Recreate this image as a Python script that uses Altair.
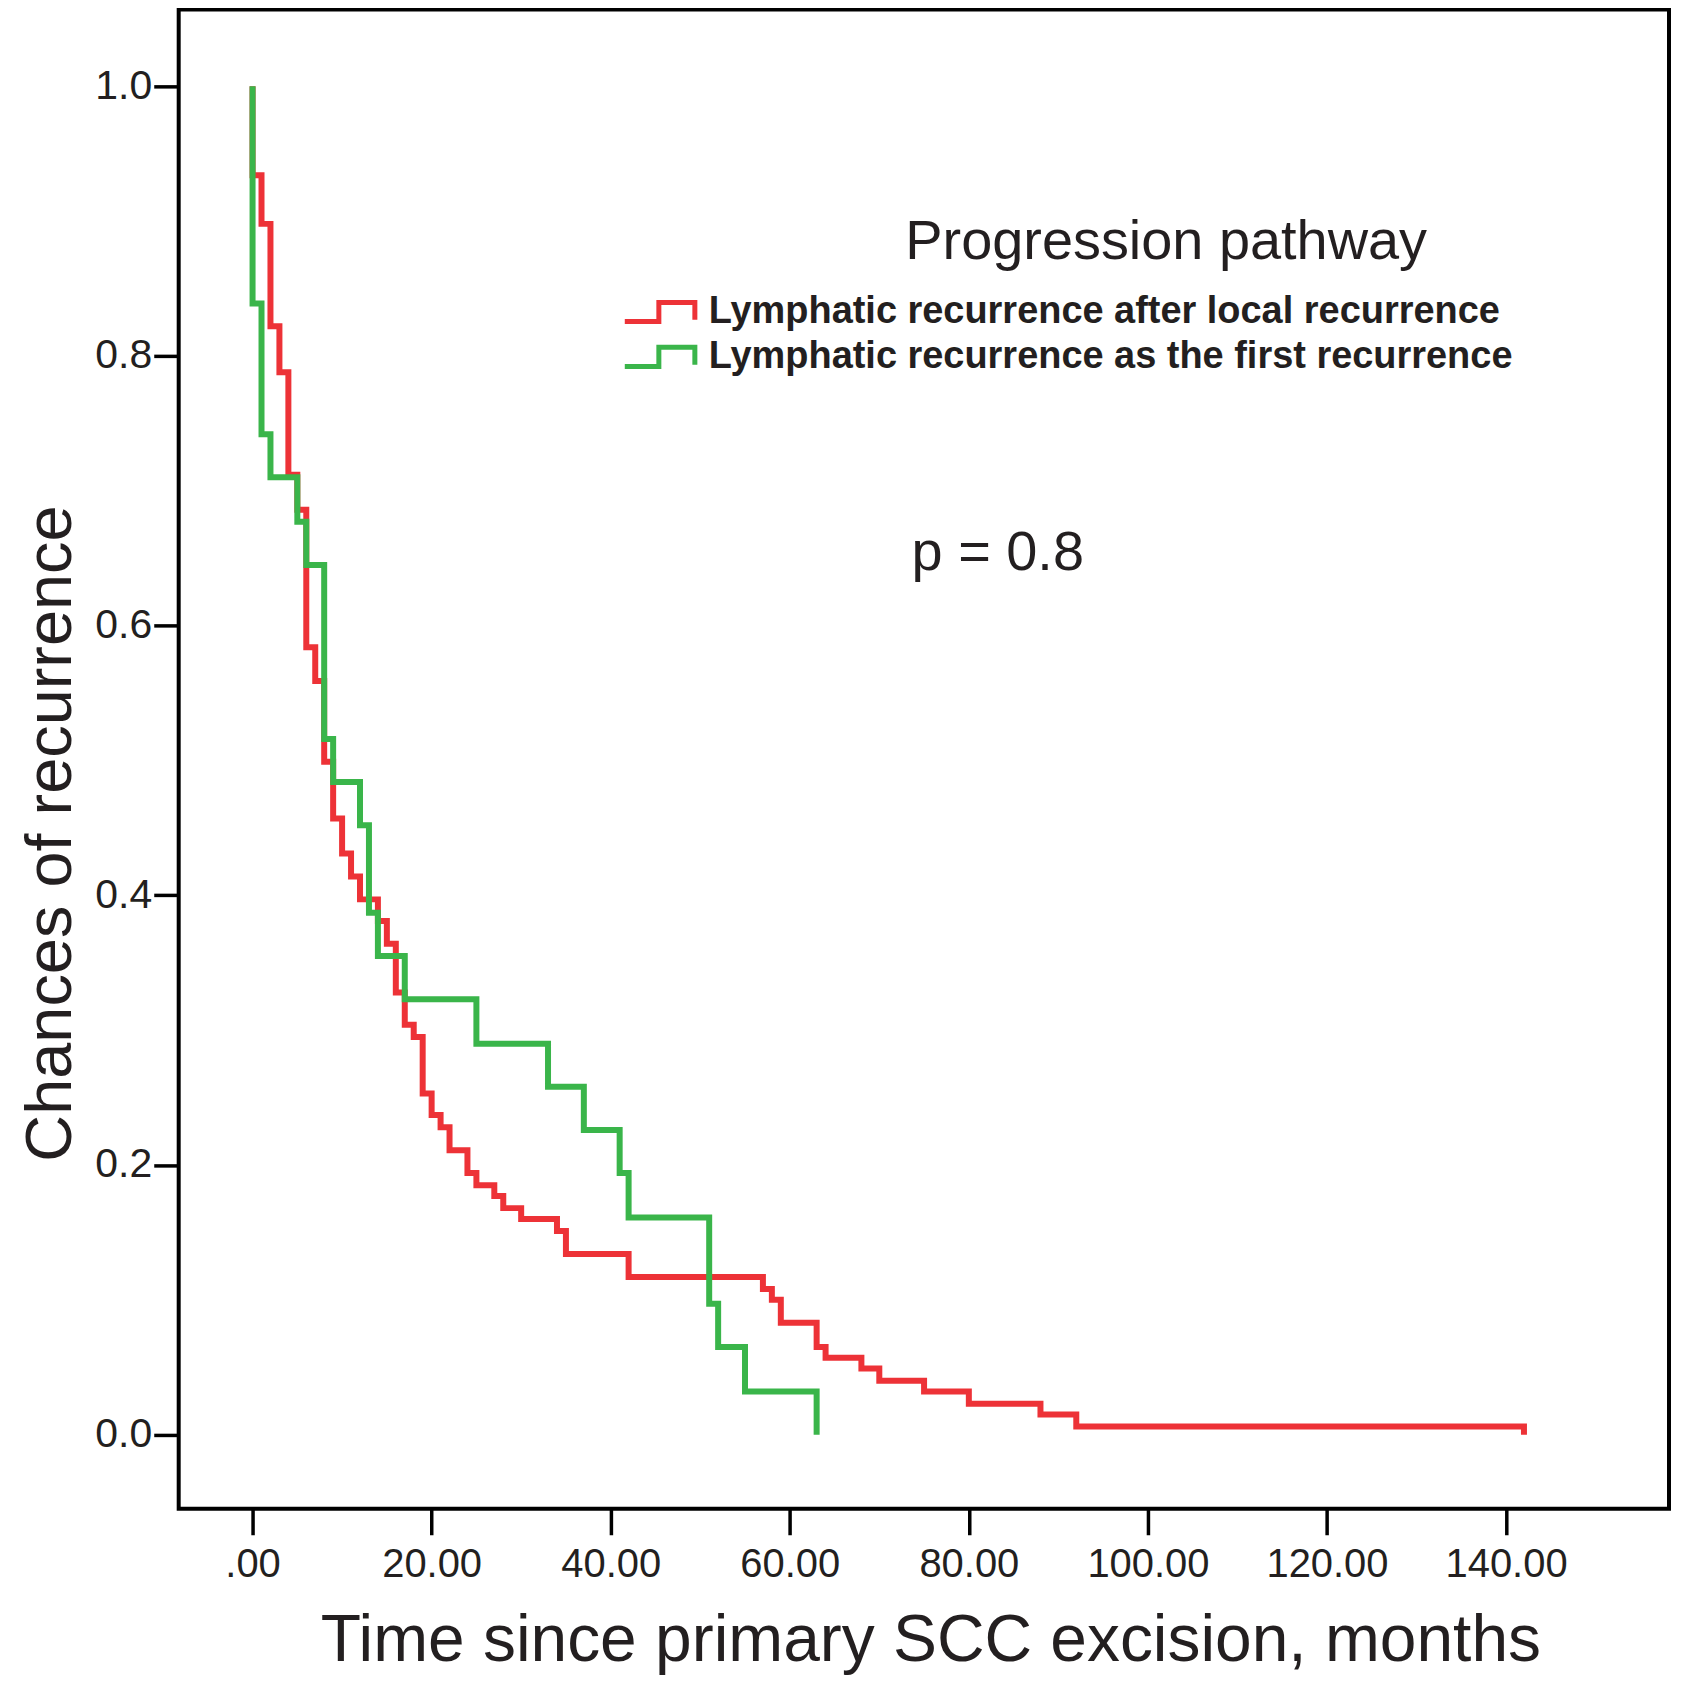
import altair as alt
import pandas as pd

RED_LABEL = "Lymphatic recurrence after local recurrence"
GREEN_LABEL = "Lymphatic recurrence as the first recurrence"

# Kaplan-Meier steps (months, chance of recurrence)
red_months = [0, 0, 1, 2, 3, 4, 5, 6, 7, 8, 9, 10, 11, 12, 14, 15, 16, 17, 18, 19,
              20, 21, 22, 24, 25, 27, 28, 30, 34, 35, 42, 57, 58, 59, 63, 64, 68, 70,
              75, 80, 88, 92, 142]
red_chance = [1.0, 0.934, 0.898, 0.822, 0.788, 0.712, 0.686, 0.584, 0.559, 0.499,
              0.457, 0.431, 0.414, 0.397, 0.381, 0.364, 0.328, 0.304, 0.295, 0.253,
              0.237, 0.228, 0.211, 0.194, 0.185, 0.177, 0.168, 0.160, 0.151, 0.134,
              0.117, 0.108, 0.100, 0.083, 0.065, 0.057, 0.049, 0.040, 0.032, 0.023,
              0.015, 0.006, 0.0]

green_months = [0, 0, 1, 2, 5, 6, 8, 9, 12, 13, 14, 17, 25, 33, 37, 41, 42, 51, 52, 55, 63]
green_chance = [1.0, 0.839, 0.742, 0.710, 0.677, 0.645, 0.516, 0.484, 0.452, 0.387,
                0.355, 0.323, 0.290, 0.258, 0.226, 0.194, 0.161, 0.097, 0.065, 0.032, 0.0]

x_ticks = [0, 20, 40, 60, 80, 100, 120, 140]
y_ticks = [0.0, 0.2, 0.4, 0.6, 0.8, 1.0]

notes = ["Progression pathway", "p = 0.8"]
note_months = [72.9, 73.6]
note_chance = [0.872, 0.641]

FONT = "Liberation Sans, Arial, Helvetica, sans-serif"
INK = "#231f20"


def curve(months, chance, label):
    return pd.DataFrame({"months": months, "chance": chance,
                         "pathway": label, "step": range(len(months))})


df = pd.concat([curve(red_months, red_chance, RED_LABEL),
                curve(green_months, green_chance, GREEN_LABEL)])
notes_df = pd.DataFrame({"months": note_months, "chance": note_chance, "note": notes})

x = alt.X("months:Q",
          scale=alt.Scale(domain=[-8.25, 158.2], nice=False, zero=False),
          title="Time since primary SCC excision, months",
          axis=alt.Axis(values=x_ticks, labelExpr="datum.value == 0 ? '.00' : format(datum.value, '.2f')",
                        labelFontSize=40, labelPadding=10, labelFlush=False, labelOverlap=False,
                        tickSize=26, tickWidth=3.5, tickColor="black", domain=False, grid=False,
                        titleFontSize=66, titleFontWeight="normal", titleX=753, titleY=152,
                        titleBaseline="alphabetic", titleAlign="center"))
y = alt.Y("chance:Q",
          scale=alt.Scale(domain=[-0.055, 1.057], nice=False, zero=False),
          title="Chances of recurrence",
          axis=alt.Axis(values=y_ticks, format=".1f", labelFontSize=41, labelPadding=2,
                        tickSize=25, tickWidth=3.5, tickColor="black", domain=False, grid=False,
                        titleFontSize=65, titleFontWeight="normal", titleAngle=270,
                        titleX=-108, titleY=825, titleBaseline="alphabetic", titleAlign="center"))

color = alt.Color("pathway:N",
                  scale=alt.Scale(domain=[RED_LABEL, GREEN_LABEL], range=["#ed3237", "#3ab54a"]),
                  legend=alt.Legend(title=None, orient="none", legendX=460, legendY=281,
                                    padding=0, rowPadding=3, labelFontSize=38, labelFontWeight="bold",
                                    labelOffset=27, labelLimit=1000, labelColor=INK,
                                    symbolType="M-1.8,0.49H-0.05V-0.49H1.8V0.4",
                                    symbolSize=1521, symbolStrokeWidth=5,
                                    symbolFillColor="transparent"))

base = alt.Chart(df).mark_line(interpolate="step-after", strokeWidth=6).encode(
    x=x, y=y, color=color, order="step:Q")

red_line = base.transform_filter(alt.datum.pathway == RED_LABEL)
green_line = base.transform_filter(alt.datum.pathway == GREEN_LABEL)

text = alt.Chart(notes_df).mark_text(align="left", baseline="alphabetic", fontSize=56,
                                     color=INK, font=FONT).encode(
    x="months:Q", y="chance:Q", text="note:N")

chart = alt.layer(red_line, green_line, text).properties(
    width=1493, height=1502,
    padding={"left": 171, "top": 0, "right": 4, "bottom": 166},
    autosize=alt.AutoSizeParams(type="none"),
).configure(font=FONT).configure_axis(
    labelColor=INK, titleColor=INK, labelFont=FONT, titleFont=FONT
).configure_view(stroke="black", strokeWidth=4)

chart.save("out.html", embed_options={"renderer": "svg", "actions": False})
